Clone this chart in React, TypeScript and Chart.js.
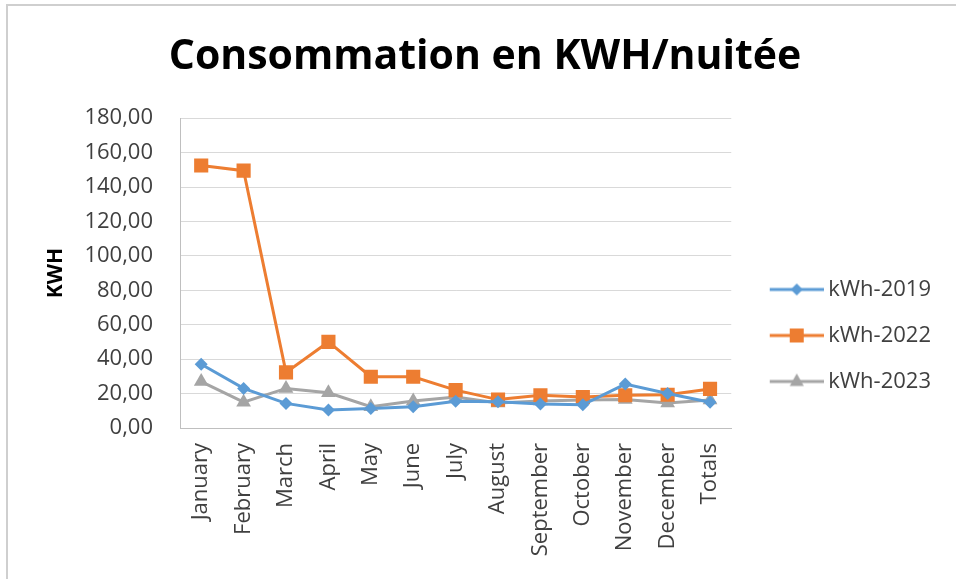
import React, { useEffect, useRef } from 'react';
import { Chart, registerables } from 'chart.js';

Chart.register(...registerables);

const categories = [
  'January', 'February', 'March', 'April', 'May', 'June', 'July',
  'August', 'September', 'October', 'November', 'December', 'Totals',
];
const kwh2019 = [37, 23, 14.3, 10.5, 11.4, 12.4, 15.5, 15.3, 14, 13.5, 25.5, 20, 15];
const kwh2022 = [152.5, 149.5, 32.3, 50, 29.8, 29.8, 22, 16.5, 19, 18, 19, 19.3, 22.7];
const kwh2023 = [27, 15, 23, 20.5, 12.4, 15.7, 18, 14.5, 15.7, 16.3, 16.6, 14.5, 16.3];
const yMin = 0;
const yMax = 180;
const yStep = 20;

const BLUE = '#5B9BD5';
const ORANGE = '#ED7D31';
const GRAY = '#A5A5A5';
const TEXT = '#404040';
const FONT = "'Open Sans', 'Noto Sans', sans-serif";

function makeLegendIcon(color: string, style: string): HTMLCanvasElement {
  const c = document.createElement('canvas');
  c.width = 60;
  c.height = 18;
  const ctx = c.getContext('2d')!;
  const cy = 9;
  const cx = 33;
  ctx.strokeStyle = color;
  ctx.lineWidth = 3;
  ctx.beginPath();
  ctx.moveTo(6, cy);
  ctx.lineTo(60, cy);
  ctx.stroke();
  ctx.fillStyle = color;
  ctx.beginPath();
  if (style === 'rectRot') {
    ctx.moveTo(cx, cy - 6);
    ctx.lineTo(cx + 6, cy);
    ctx.lineTo(cx, cy + 6);
    ctx.lineTo(cx - 6, cy);
    ctx.closePath();
  } else if (style === 'rect') {
    ctx.rect(cx - 7, cy - 7, 14, 14);
  } else {
    ctx.moveTo(cx, cy - 8);
    ctx.lineTo(cx + 7, cy + 4.5);
    ctx.lineTo(cx - 7, cy + 4.5);
    ctx.closePath();
  }
  ctx.fill();
  return c;
}

export default function App() {
  const ref = useRef<HTMLCanvasElement | null>(null);

  useEffect(() => {
    if (!ref.current) return;
    const icons = [
      makeLegendIcon(BLUE, 'rectRot'),
      makeLegendIcon(ORANGE, 'rect'),
      makeLegendIcon(GRAY, 'triangle'),
    ];
    const chart = new Chart(ref.current, {
      type: 'line',
      data: {
        labels: categories,
        datasets: [
          {
            label: 'kWh-2019',
            data: kwh2019,
            borderColor: BLUE,
            backgroundColor: BLUE,
            borderWidth: 3,
            pointStyle: 'rectRot',
            pointRadius: 6.5,
            pointBorderWidth: 0,
            tension: 0,
          },
          {
            label: 'kWh-2022',
            data: kwh2022,
            borderColor: ORANGE,
            backgroundColor: ORANGE,
            borderWidth: 3,
            pointStyle: 'rect',
            pointRadius: 10,
            pointBorderWidth: 0,
            tension: 0,
          },
          {
            label: 'kWh-2023',
            data: kwh2023,
            borderColor: GRAY,
            backgroundColor: GRAY,
            borderWidth: 3,
            pointStyle: 'triangle',
            pointRadius: 8.5,
            pointBorderWidth: 0,
            tension: 0,
          },
        ],
      },
      options: {
        responsive: false,
        animation: false,
        devicePixelRatio: 1,
        layout: { padding: { left: 29, right: 15, top: 10, bottom: 22 } },
        plugins: {
          title: {
            display: true,
            text: 'Consommation en KWH/nuitée',
            color: '#000000',
            font: { family: FONT, size: 41, weight: 'bold', lineHeight: 1.2 },
            padding: { top: 23, bottom: 36 },
          },
          legend: {
            display: true,
            position: 'right',
            align: 'center',
            maxWidth: 240,
            title: {
              display: true,
              text: ' ',
              font: { size: 10, lineHeight: 1.2 },
              padding: { top: 92, bottom: 0 },
            },
            labels: {
              usePointStyle: true,
              pointStyleWidth: 47,
              color: TEXT,
              font: { family: FONT, size: 22 },
              padding: 24,
              generateLabels: (c: any) => {
                const base = Chart.defaults.plugins.legend.labels.generateLabels(c);
                return base.map((item: any, i: number) => ({ ...item, pointStyle: icons[i] }));
              },
            },
          },
          tooltip: { enabled: false },
        },
        scales: {
          x: {
            offset: true,
            grid: { display: false, drawTicks: false },
            border: { display: true, color: '#BFBFBF', width: 1 },
            ticks: {
              color: TEXT,
              font: { family: FONT, size: 22 },
              minRotation: 90,
              maxRotation: 90,
              autoSkip: false,
              padding: 15,
            },
            afterFit: (s: any) => {
              s.height = 129;
            },
          },
          y: {
            min: yMin,
            max: yMax,
            grid: { color: '#D9D9D9', drawTicks: false, lineWidth: 1 },
            border: { display: true, color: '#BFBFBF', width: 1 },
            ticks: {
              stepSize: yStep,
              color: TEXT,
              font: { family: FONT, size: 22 },
              padding: 27,
              callback: (v: any) => Number(v).toFixed(2).replace('.', ','),
            },
            title: {
              display: true,
              text: 'KWH',
              color: '#000000',
              font: { family: FONT, size: 21, weight: 'bold', lineHeight: 1.2 },
              padding: { top: 14, bottom: 0 },
            },
            afterFit: (s: any) => {
              s.width = 151;
            },
          },
          spacer: {
            type: 'linear',
            position: 'right',
            display: true,
            grid: { display: false, drawTicks: false },
            border: { display: false },
            ticks: { display: false },
            afterFit: (s: any) => {
              s.width = 15;
            },
          },
        },
      } as any,
    });
    return () => chart.destroy();
  }, []);

  return (
    <div style={{ position: 'absolute', left: 0, top: 0, width: 956, height: 579, background: '#ffffff' }}>
      <div
        style={{
          position: 'absolute',
          left: 6,
          top: 4,
          width: 950,
          height: 575,
          boxSizing: 'border-box',
          borderTop: '2px solid #CFCFCF',
          borderLeft: '2px solid #CFCFCF',
        }}
      />
      <canvas ref={ref} width={956} height={579} style={{ position: 'absolute', left: 0, top: 0 }} />
    </div>
  );
}
